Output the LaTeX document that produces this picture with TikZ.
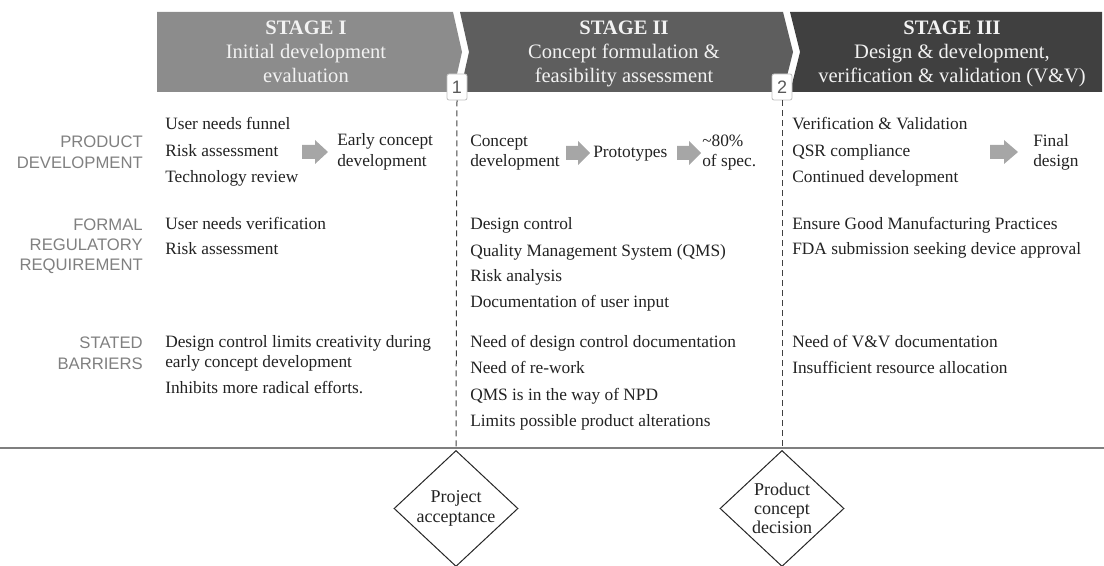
\documentclass[tikz,border=0pt]{standalone}
\usepackage{fontspec}
\setmainfont{Liberation Serif}
\newfontfamily\labelsans{Liberation Sans}
\usetikzlibrary{shapes.geometric}

\definecolor{bandone}{HTML}{8C8C8C}
\definecolor{bandtwo}{HTML}{5E5E5E}
\definecolor{bandthree}{HTML}{404040}
\definecolor{headtext}{HTML}{F2F2F2}
\definecolor{rowgray}{HTML}{808080}
\definecolor{bodyink}{HTML}{222222}
\definecolor{arrowgray}{HTML}{A6A6A6}
\definecolor{gateframe}{HTML}{BFBFBF}
\definecolor{gateink}{HTML}{595959}
\definecolor{dashink}{HTML}{404040}
\definecolor{ruleink}{HTML}{7F7F7F}
\definecolor{diamondink}{HTML}{262626}

% block arrow: #1 = tail x, #2 = tip x, #3 = centre y
\newcommand\flowarrow[3]{%
  \fill[arrowgray] ({#1},{#3-7}) -- ({(#1+#2)/2},{#3-7}) -- ({(#1+#2)/2},{#3-12})
    -- ({#2},{#3}) -- ({(#1+#2)/2},{#3+12}) -- ({(#1+#2)/2},{#3+7})
    -- ({#1},{#3+7}) -- cycle;}

\begin{document}
\begin{tikzpicture}[x=0.75pt,y=-0.75pt,
  body/.style={inner sep=0pt, anchor=base west, text=bodyink, font=\fontsize{13}{15}\selectfont},
  rowlabel/.style={inner sep=0pt, anchor=base east, text=rowgray, font=\labelsans\fontsize{12.5}{15}\selectfont},
  headline/.style={inner sep=0pt, anchor=base, text=headtext, font=\fontsize{15.4}{18}\selectfont},
  headtitle/.style={headline, font=\bfseries\fontsize{15.4}{18}\selectfont},
  gatebox/.style={draw=gateframe, line width=0.6pt, fill=white, rounded corners=1.5pt,
    minimum width=15pt, minimum height=19.5pt, inner sep=0pt, text=gateink,
    font=\labelsans\fontsize{13.5}{15}\selectfont},
  milestone/.style={diamond, aspect=1.1, draw=diamondink, line width=0.75pt, fill=white,
    inner sep=0pt, minimum width=93pt, minimum height=87pt, align=center, anchor=north,
    text=bodyink, font=\fontsize{13.5}{14.5}\selectfont},
  gatelink/.style={draw=dashink, line width=0.75pt, dash pattern=on 4.5pt off 3pt},
  rule/.style={draw=ruleink, line width=1.5pt}
]
\useasboundingbox (0,0) rectangle (1104,566);

% stage bands
\fill[bandone] (157,12) -- (453,12) -- (462,52) -- (453,92) -- (157,92) -- cycle;
\fill[bandtwo] (460,12) -- (783,12) -- (793,52) -- (783,92) -- (460,92) -- (469,52) -- cycle;
\fill[bandthree] (790,12) -- (1102,12) -- (1102,92) -- (790,92) -- (800,52) -- cycle;

% stage headings
\node[headtitle] (s1a) at (306,35) {STAGE I};
\node[headline]  (s1b) at (306,59) {Initial development};
\node[headline]  (s1c) at (306,83) {evaluation};
\node[headtitle] (s2a) at (624,35) {STAGE II};
\node[headline]  (s2b) at (624,59) {Concept formulation \&};
\node[headline]  (s2c) at (624,83) {feasibility assessment};
\node[headtitle] (s3a) at (952,35) {STAGE III};
\node[headline]  (s3b) at (952,59) {Design \& development,};
\node[headline]  (s3c) at (952,83) {verification \& validation (V\&V)};

% row labels
\node[rowlabel] (l1a) at (143,148) {PRODUCT};
\node[rowlabel] (l1b) at (143,169) {DEVELOPMENT};
\node[rowlabel] (l2a) at (143,231) {FORMAL};
\node[rowlabel] (l2b) at (143,251) {REGULATORY};
\node[rowlabel] (l2c) at (143,271) {REQUIREMENT};
\node[rowlabel] (l3a) at (143,349) {STATED};
\node[rowlabel] (l3b) at (143,370) {BARRIERS};

% stage I
\node[body] (a1) at (165,130) {User needs funnel};
\node[body] (a2) at (165,157) {Risk assessment};
\node[body] (a3) at (165,183) {Technology review};
\flowarrow{302}{328}{152}
\node[body] (a4) at (337,146) {Early concept};
\node[body] (a5) at (337,167) {development};
\node[body] (b1) at (165,230) {User needs verification};
\node[body] (b2) at (165,255) {Risk assessment};
\node[body] (c1) at (165,348) {Design control limits creativity during};
\node[body] (c2) at (165,368) {early concept development};
\node[body] (c3) at (165,394) {Inhibits more radical efforts.};

% stage II
\node[body] (d1) at (470,147) {Concept};
\node[body] (d2) at (470,167) {development};
\flowarrow{566}{590}{153}
\node[body] (d3) at (593,158) {Prototypes};
\flowarrow{677}{701}{153}
\node[body] (d4) at (702,147) {\textasciitilde80\%};
\node[body] (d5) at (702,167) {of spec.};
\node[body] (e1) at (470,230) {Design control};
\node[body] (e2) at (470,257) {Quality Management System (QMS)};
\node[body] (e3) at (470,282) {Risk analysis};
\node[body] (e4) at (470,308) {Documentation of user input};
\node[body] (f1) at (470,348) {Need of design control documentation};
\node[body] (f2) at (470,374) {Need of re-work};
\node[body] (f3) at (470,401) {QMS is in the way of NPD};
\node[body] (f4) at (470,427) {Limits possible product alterations};

% stage III
\node[body] (g1) at (792,130) {Verification \& Validation};
\node[body] (g2) at (792,157) {QSR compliance};
\node[body] (g3) at (792,183) {Continued development};
\flowarrow{990}{1018}{152}
\node[body] (g4) at (1033,147) {Final};
\node[body] (g5) at (1033,167) {design};
\node[body] (h1) at (792,230) {Ensure Good Manufacturing Practices};
\node[body] (h2) at (792,255) {FDA submission seeking device approval};
\node[body] (i1) at (792,348) {Need of V\&V documentation};
\node[body] (i2) at (792,374) {Insufficient resource allocation};

% timeline rule
\coordinate (rulew) at (0,448);
\coordinate (rulee) at (1104,448);
\draw[rule] (rulew) -- (rulee);

% gates and milestones
\node[gatebox] (gate1) at (457,87) {1};
\node[gatebox] (gate2) at (782,87) {2};
\node[milestone] (m1) at (456,450) {Project\\acceptance};
\node[milestone] (m2) at (782,450) {Product\\concept\\decision};
\draw[gatelink] (gate1.south) -- (m1.north);
\draw[gatelink] (gate2.south) -- (m2.north);
\end{tikzpicture}
\end{document}
